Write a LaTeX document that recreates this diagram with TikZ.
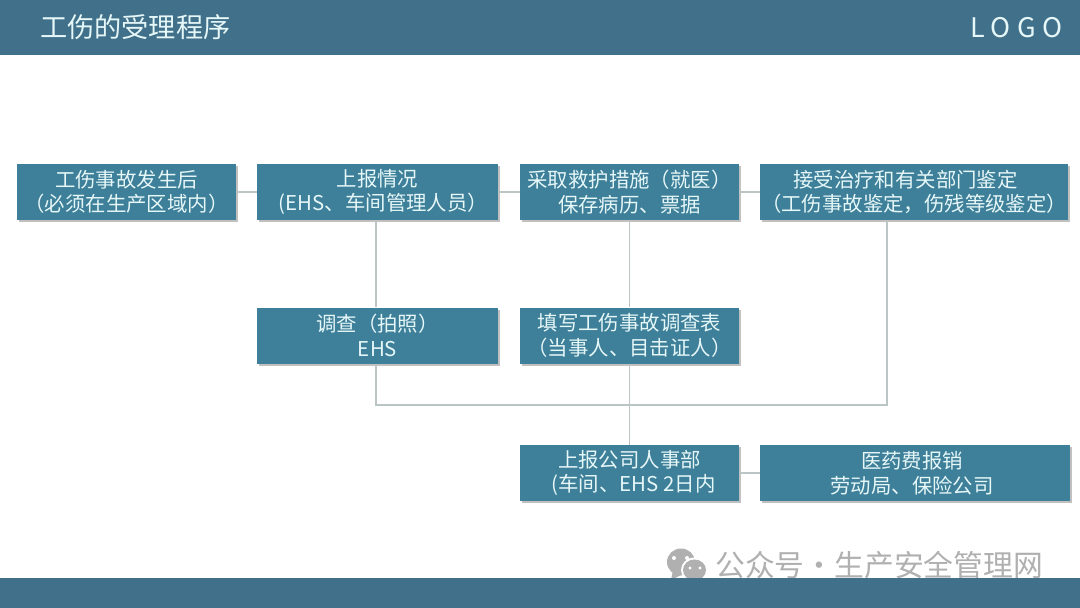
\documentclass[tikz,border=0pt]{standalone}
\usepackage{fontspec}
\setmainfont{Noto Sans CJK SC}
\usetikzlibrary{shadows}
\definecolor{boxfill}{HTML}{3E7F99}
\definecolor{barfill}{HTML}{40708A}
\definecolor{boxtext}{HTML}{E6F7F8}
\definecolor{linkgray}{HTML}{BCC5C5}
\definecolor{markgray}{HTML}{B0B0B0}
\tikzset{
  stepbox/.style={fill=boxfill,text=boxtext,inner sep=0pt,align=center,
    minimum height=56pt,
    font=\fontsize{20.4}{24.5}\selectfont,
    drop shadow={shadow xshift=1.5pt,shadow yshift=-2pt,opacity=.35,fill=black!70}},
  link/.style={draw=linkgray,line width=1.1pt},
  bar/.style={fill=barfill,draw=none},
  marktext/.style={text=markgray,inner sep=0pt,font=\fontsize{29.8}{32}\selectfont},
}
\begin{document}
\begin{tikzpicture}[x=1pt,y=-1pt]
\useasboundingbox (0,0) rectangle (1080,608);
\fill[white] (0,0) rectangle (1080,608);
% header
\fill[bar] (0,0) rectangle (1080,55);
\node[anchor=west,inner sep=0pt,text=boxtext,font=\fontsize{27.2}{30}\selectfont] (title) at (40,27.5) {工伤的受理程序};
\node[anchor=east,inner sep=0pt,text=boxtext,font=\fontsize{27}{30}\selectfont\addfontfeature{LetterSpace=24}] (logo) at (1062.5,27.5) {LOGO};
% watermark
\node[marktext,anchor=west] (mark) at (715,565.5) {公众号·生产安全管理网};
\begin{scope}[fill=markgray]
  \fill (681,562) ellipse (14pt and 13.5pt);
  \fill (673,570) -- (671,580) -- (683,574) -- cycle;
  \fill[white] (694.5,570) ellipse (13.5pt and 12.5pt);
  \fill (694.5,570) ellipse (11.5pt and 10.5pt);
  \fill[white] (674,558) circle (2pt) (687,558) circle (2pt) (690,568) circle (1.6pt) (700,568) circle (1.6pt);
\end{scope}
% footer
\fill[bar] (0,578) rectangle (1080,608);
% boxes
\node[stepbox,minimum width=219pt] (a) at (126.5,192) {工伤事故发生后\\（必须在生产区域内）};
\node[stepbox,minimum width=241pt] (b) at (377.5,192) {上报情况\\\hspace*{12pt}(EHS、车间管理人员）};
\node[stepbox,minimum width=219pt] (c) at (629.5,192) {采取救护措施（就医）\\保存病历、票据};
\node[stepbox,minimum width=308pt] (d) at (914,192) {接受治疗和有关部门鉴定\hspace*{17pt}\\（工伤事故鉴定，伤残等级鉴定）};
\node[stepbox,minimum width=241pt] (e) at (377.5,335.5) {调查（拍照）\\EHS};
\node[stepbox,minimum width=219pt] (f) at (629.5,335.5) {填写工伤事故调查表\\（当事人、目击证人）};
\node[stepbox,minimum width=219pt] (g) at (629.5,473) {上报公司人事部\\\hspace*{8pt}(车间、EHS 2日内};
\node[stepbox,minimum width=310pt] (h) at (915,473) {医药费报销\hspace*{6pt}\\劳动局、保险公司\hspace*{6pt}};
% connectors
\coordinate (ej) at ([xshift=-1.5pt]e.south |- 0,405);
\coordinate (dj) at (887,405);
\coordinate (dt) at (887,220);
\path[link] (a.east) -- (b.west);
\path[link] (b.east) -- (c.west);
\path[link] (c.east) -- (d.west);
\path[link] ([xshift=-1.5pt]b.south) -- ([xshift=-1.5pt]e.north);
\path[link] (c.south) -- (f.north);
\path[link] (f.south) -- (g.north);
\path[link] ([xshift=-1.5pt]e.south) -- (ej) -- (dj) -- (dt);
\path[link] (g.east) -- (h.west);
\end{tikzpicture}
\end{document}
